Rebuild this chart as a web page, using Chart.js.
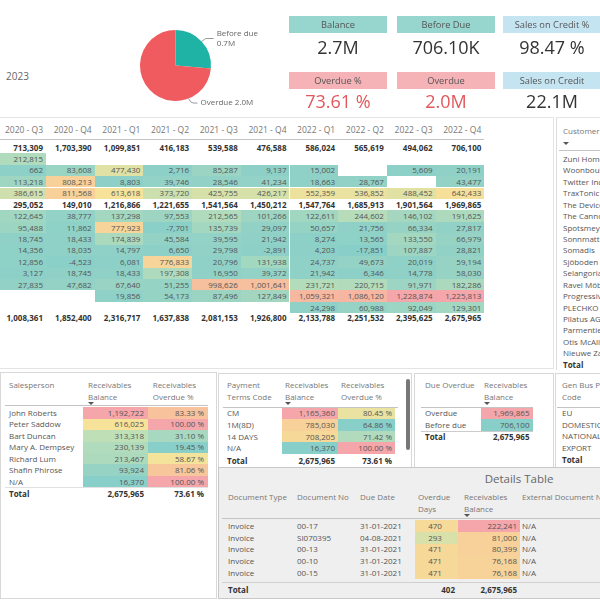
<!DOCTYPE html>
<html><head><meta charset="utf-8">
<script src="https://cdn.jsdelivr.net/npm/chart.js@4.4.1/dist/chart.umd.min.js"></script>
<style>
html,body{margin:0;padding:0;}
body{width:600px;height:600px;overflow:hidden;background:#fff;font-family:"Open Sans","Noto Sans",sans-serif;position:relative;}
.t{position:absolute;white-space:nowrap;line-height:12px;height:12px;}
.b{position:absolute;box-sizing:border-box;}
#pie{position:absolute;left:130px;top:22px;}
</style></head><body>
<canvas id="pie" width="150" height="92"></canvas>
<script>
// ---------------- DATA ----------------
const yearLabel = '2023';
const pieLabels = ['Before due', 'Overdue'];
const pieValues = [706100, 1969865];

const kpiLabels = ['Balance', 'Before Due', 'Sales on Credit %', 'Overdue %', 'Overdue', 'Sales on Credit'];
const kpiValues = ['2.7M', '706.10K', '98.47 %', '73.61 %', '2.0M', '22.1M'];

const quarters = ['2020 - Q3','2020 - Q4','2021 - Q1','2021 - Q2','2021 - Q3','2021 - Q4','2022 - Q1','2022 - Q2','2022 - Q3','2022 - Q4'];
const group1Total = [713309,1703390,1099851,416183,539588,476588,586024,565619,494062,706100];
const group1Rows = [
  [212815,null,null,null,null,null,null,null,null,null],
  [662,83608,477430,2716,85287,9137,15002,null,5609,20191],
  [113218,808213,8803,39746,28546,41234,18663,28767,null,43477],
  [386615,811568,613618,373720,425755,426217,552359,536852,488452,642433]
];
const group2Total = [295052,149010,1216866,1221655,1541564,1450212,1547764,1685913,1901564,1969865];
const group2Rows = [
  [122645,38777,137298,97553,212565,101266,122611,244602,146102,191625],
  [95488,11862,777923,-7701,135739,29097,50657,21756,66334,27817],
  [18745,18433,174839,45584,39595,21942,8274,13565,133550,66979],
  [14356,18035,14797,6650,29798,-2891,4203,-17851,107887,28821],
  [12856,-4523,6081,776833,20796,131938,24737,49673,20019,59194],
  [3127,18745,18433,197308,16950,39372,21942,6346,14778,58030],
  [27835,47682,67640,51255,998626,1001641,231721,220715,91971,182286],
  [null,null,19856,54173,87496,127849,1059321,1086120,1228874,1225813],
  [null,null,null,null,null,null,24298,60988,92049,129301]
];
const grandTotal = [1008361,1852400,2316717,1637838,2081153,1926800,2133788,2251532,2395625,2675965];

const customers = ['Zuni Home Crafts Ltd.','Woonboulevard Kuitenbrouwer','Twitter Inc','TraxTonic','The Device Shop','The Cannon Group PLC','Spotsmeyer\'s Furnishings','Sonnmatt Design','Somadis','Sjöboden','Selangorian Ltd.','Ravel Möbel','Progressive Home Furnishings','PLECHKO','Pilatus AG','Parmentier Boutique','Otis McAllister','Nieuwe Zandpoort NV'];

const salespeople = ['John Roberts','Peter Saddow','Bart Duncan','Mary A. Dempsey','Richard Lum','Shafin Phirose','N/A'];
const spBalance = [1192722,616025,313318,230139,213467,93924,16370];
const spOverduePct = [83.33,100.00,31.10,19.45,58.67,81.06,100.00];
const spTotals = [2675965, 73.61];

const payTerms = ['CM','1M(8D)','14 DAYS','N/A'];
const ptBalance = [1165360,785030,708205,16370];
const ptOverduePct = [80.45,64.86,71.42,100.00];
const ptTotals = [2675965, 73.61];

const dueCats = ['Overdue','Before due'];
const dueBalance = [1969865,706100];
const dueTotal = 2675965;

const genBusCodes = ['EU','DOMESTIC','NATIONAL','EXPORT'];

const docTypes = ['Invoice','Invoice','Invoice','Invoice','Invoice'];
const docNos = ['00-17','SI070395','00-13','00-10','00-15'];
const dueDates = ['31-01-2021','04-08-2021','31-01-2021','31-01-2021','31-01-2021'];
const overdueDays = [470,293,471,471,471];
const detBalance = [222241,81000,80399,76168,76168];
const extDocNos = ['N/A','N/A','N/A','N/A','N/A'];
const detTotals = [402, 2675965];
const overdueDaysRange = [0, 800];
const detBalanceRange = [-200000, 222241];

// ---------------- HELPERS ----------------
const fmt = v => v.toLocaleString('en-US');
const pct = v => v.toFixed(2) + ' %';
const STOPS = [[137,207,201],[190,223,183],[246,227,153],[247,200,153],[245,166,170]];
function scaleColor(v, mn, mx){
  let t = (v - mn) / (mx - mn); t = Math.max(0, Math.min(1, t));
  const p = t * (STOPS.length - 1); const i = Math.min(Math.floor(p), STOPS.length - 2); const f = p - i;
  const c = STOPS[i].map((a, k) => Math.round(a + (STOPS[i+1][k] - a) * f));
  return 'rgb(' + c.join(',') + ')';
}
function box(x, y, w, h, css){
  const d = document.createElement('div'); d.className = 'b';
  Object.assign(d.style, {left:x+'px', top:y+'px', width:w+'px', height:h+'px'}, css || {});
  document.body.appendChild(d); return d;
}
function txt(s, x, yc, o){
  o = o || {};
  const d = document.createElement('div'); d.className = 't'; d.textContent = s;
  const size = o.size || 8, lh = Math.max(11, Math.ceil(size * 1.4));
  d.style.fontSize = size + 'px'; d.style.lineHeight = lh + 'px'; d.style.height = lh + 'px';
  d.style.top = (yc - lh / 2) + 'px';
  d.style.color = o.color || '#444';
  if (o.bold) d.style.fontWeight = '700';
  if (o.align === 'right'){ d.style.left = (x - 300) + 'px'; d.style.width = '300px'; d.style.textAlign = 'right'; }
  else if (o.align === 'center'){ d.style.left = (x - 150) + 'px'; d.style.width = '300px'; d.style.textAlign = 'center'; }
  else d.style.left = x + 'px';
  document.body.appendChild(d); return d;
}
// small sort-indicator triangle (drawn as a shape, not text)
function arrow(x, y){
  box(x, y, 0, 0, {borderLeft:'3px solid transparent', borderRight:'3px solid transparent', borderTop:'3px solid #555'});
}

// ---------------- TOP AREA ----------------
txt(yearLabel, 6, 76, {size:10, color:'#666'});

const kpiBg = ['#97d5cf','#97d5cf','#c5e4f2','#f5b3b8','#f5b3b8','#c5e4f2'];
const kpiColor = ['#333','#333','#333','#e0585c','#e0585c','#333'];
const kpiX = [289, 397, 503];
kpiLabels.forEach((lab, i) => {
  const col = i % 3, row = Math.floor(i / 3);
  const x = kpiX[col], ly = row ? 72 : 16, vy = row ? 101 : 46.5;
  box(x, ly, 98, 17, {background:kpiBg[i]});
  txt(lab, x + 49, ly + 8.5, {size:9.3, color:'#555', align:'center'});
  txt(kpiValues[i], x + 49, vy, {size:18, color:kpiColor[i], align:'center'});
});

// ---------------- MATRIX ----------------
box(-1, 117, 555, 252, {border:'1px solid #e4e4e4'});
const COLW = 48.7, COL0R = 46, ROW0 = 147.5, ROWH = 11.43;
const detailVals = [...group1Rows, ...group2Rows].flat().filter(v => v !== null);
const mMin = Math.min(...detailVals), mMax = Math.max(...detailVals);
quarters.forEach((q, i) => txt(q, COL0R + COLW * i - 3, 130, {size:8.5, color:'#777', align:'right'}));
box(0, 139, 484, 1, {background:'#c4c4c4'});
const matrixRows = [{vals:group1Total, sub:true}, ...group1Rows.map(v => ({vals:v})), {vals:group2Total, sub:true}, ...group2Rows.map(v => ({vals:v}))];
matrixRows.forEach((r, ri) => {
  const yc = ROW0 + ROWH * ri;
  r.vals.forEach((v, ci) => {
    if (v === null) return;
    const right = COL0R + COLW * ci;
    if (!r.sub) box(Math.max(0, right - COLW), yc - ROWH / 2, right - Math.max(0, right - COLW), ROWH, {background:scaleColor(v, mMin, mMax)});
    txt(fmt(v), right - 3, yc, {size:8, bold:!!r.sub, color:r.sub ? '#333' : '#555', align:'right'});
  });
});
grandTotal.forEach((v, ci) => txt(fmt(v), COL0R + COLW * ci - 3, 318, {size:8, bold:true, color:'#333', align:'right'}));

// ---------------- CUSTOMER LIST ----------------
box(556, 117, 50, 253, {borderLeft:'1px solid #ddd', borderTop:'1px solid #e4e4e4'});
txt('Customer Name', 563, 131, {size:8, color:'#777'});
arrow(563, 142);
box(559, 150, 45, 1, {background:'#c4c4c4'});
customers.forEach((c, i) => txt(c, 563, 159 + ROWH * i, {size:8, color:'#555'}));
txt('Total', 563, 159 + ROWH * customers.length, {size:8, bold:true, color:'#333'});

// ---------------- SALESPERSON ----------------
box(0, 372, 217, 227, {border:'1px solid #d8d8d8'});
txt('Salesperson', 9, 385, {color:'#777'});
txt('Receivables', 88, 385, {color:'#777'}); txt('Balance', 88, 396.5, {color:'#777'}); arrow(88, 401.5);
txt('Receivables', 152.7, 385, {color:'#777'}); txt('Overdue %', 152.7, 396.5, {color:'#777'});
box(5, 405, 203, 1, {background:'#c4c4c4'});
const spMin = Math.min(...spBalance), spMax = Math.max(...spBalance);
const spoMin = Math.min(...spOverduePct), spoMax = Math.max(...spOverduePct);
salespeople.forEach((n, i) => {
  const yc = 413 + 11.43 * i;
  txt(n, 9, yc, {color:'#555'});
  box(83, yc - 5.7, 64.5, 11.43, {background:scaleColor(spBalance[i], spMin, spMax)});
  txt(fmt(spBalance[i]), 144, yc, {align:'right', color:'#555'});
  box(147.5, yc - 5.7, 60, 11.43, {background:scaleColor(spOverduePct[i], spoMin, spoMax)});
  txt(pct(spOverduePct[i]), 204, yc, {align:'right', color:'#555'});
});
box(5, 487, 203, 1, {background:'#e2e2e2'});
txt('Total', 9, 493.5, {bold:true, color:'#333'});
txt(fmt(spTotals[0]), 144, 493.5, {bold:true, color:'#333', align:'right'});
txt(pct(spTotals[1]), 204, 493.5, {bold:true, color:'#333', align:'right'});

// ---------------- PAYMENT TERMS ----------------
box(218, 373, 194, 96, {border:'1px solid #d8d8d8'});
txt('Payment', 227, 385, {color:'#777'}); txt('Terms Code', 227, 396.5, {color:'#777'});
txt('Receivables', 285, 385, {color:'#777'}); txt('Balance', 285, 396.5, {color:'#777'}); arrow(285, 401.5);
txt('Receivables', 341, 385, {color:'#777'}); txt('Overdue %', 341, 396.5, {color:'#777'});
box(223, 407, 175, 1, {background:'#c4c4c4'});
box(406, 379, 3.5, 71, {background:'#777', borderRadius:'2px'});
const ptMin = Math.min(...ptBalance), ptMax = Math.max(...ptBalance);
const ptoMin = Math.min(...ptOverduePct), ptoMax = Math.max(...ptOverduePct);
payTerms.forEach((n, i) => {
  const yc = 413.3 + 11.6 * i;
  txt(n, 227, yc, {color:'#555'});
  box(282, yc - 5.8, 55.5, 11.6, {background:scaleColor(ptBalance[i], ptMin, ptMax)});
  txt(fmt(ptBalance[i]), 335, yc, {align:'right', color:'#555'});
  box(337.5, yc - 5.8, 57.5, 11.6, {background:scaleColor(ptOverduePct[i], ptoMin, ptoMax)});
  txt(pct(ptOverduePct[i]), 392, yc, {align:'right', color:'#555'});
});
txt('Total', 227, 460.5, {bold:true, color:'#333'});
txt(fmt(ptTotals[0]), 335, 460.5, {bold:true, color:'#333', align:'right'});
txt(pct(ptTotals[1]), 392, 460.5, {bold:true, color:'#333', align:'right'});

// ---------------- DUE OVERDUE ----------------
box(414, 373, 140, 96, {border:'1px solid #d8d8d8'});
txt('Due Overdue', 425, 385, {color:'#777'});
txt('Receivables', 484, 385, {color:'#777'}); txt('Balance', 484, 396.5, {color:'#777'}); arrow(484, 401.5);
box(421, 407, 112, 1, {background:'#c4c4c4'});
const dMin = Math.min(...dueBalance), dMax = Math.max(...dueBalance);
dueCats.forEach((n, i) => {
  const yc = 413.3 + 11.5 * i;
  txt(n, 425, yc, {color:'#555'});
  box(481, yc - 5.75, 52, 11.5, {background:scaleColor(dueBalance[i], dMin, dMax)});
  txt(fmt(dueBalance[i]), 529.5, yc, {align:'right', color:'#555'});
});
box(421, 430.5, 112, 1, {background:'#ccc'});
txt('Total', 425, 436.5, {bold:true, color:'#333'});
txt(fmt(dueTotal), 529.5, 436.5, {bold:true, color:'#333', align:'right'});

// ---------------- GEN BUS ----------------
box(555, 373, 50, 96, {border:'1px solid #d8d8d8'});
txt('Gen Bus Posting Group', 562, 385, {color:'#777'}); txt('Code', 562, 396.5, {color:'#777'});
box(557, 407, 48, 1, {background:'#c4c4c4'});
genBusCodes.forEach((n, i) => txt(n, 562, 413.3 + 11.5 * i, {color:'#555'}));
txt('Total', 562, 460, {bold:true, color:'#333'});

// ---------------- DETAILS TABLE ----------------
box(218, 467, 386, 132, {background:'#efefef', border:'1px solid #c8c8c8'});
txt('Details Table', 519, 478.5, {size:11.5, color:'#666', align:'center'});
txt('Document Type', 228, 497, {color:'#777'});
txt('Document No', 297, 497, {color:'#777'});
txt('Due Date', 360, 497, {color:'#777'});
txt('Overdue', 418, 497, {color:'#777'}); txt('Days', 418, 508.5, {color:'#777'});
txt('Receivables', 464, 497, {color:'#777'}); txt('Balance', 464, 508.5, {color:'#777'}); arrow(464, 513.5);
txt('External Document No.', 522, 497, {color:'#777'});
box(222, 518, 382, 1, {background:'#c4c4c4'});
docTypes.forEach((t, i) => {
  const yc = 526 + 11.7 * i;
  txt(t, 228, yc, {color:'#555'});
  txt(docNos[i], 297, yc, {color:'#555'});
  txt(dueDates[i], 360, yc, {color:'#555'});
  box(415, yc - 5.85, 43, 11.7, {background:scaleColor(overdueDays[i], overdueDaysRange[0], overdueDaysRange[1])});
  txt(String(overdueDays[i]), 435, yc, {align:'center', color:'#555'});
  box(458, yc - 5.85, 62, 11.7, {background:scaleColor(detBalance[i], detBalanceRange[0], detBalanceRange[1])});
  txt(fmt(detBalance[i]), 517, yc, {align:'right', color:'#555'});
  txt(extDocNos[i], 522, yc, {color:'#555'});
});
box(222, 582, 382, 1, {background:'#d0d0d0'});
txt('Total', 228, 590, {bold:true, color:'#333'});
txt(String(detTotals[0]), 455, 590, {bold:true, color:'#333', align:'right'});
txt(fmt(detTotals[1]), 517, 590, {bold:true, color:'#333', align:'right'});

// ---------------- PIE (Chart.js) ----------------
const pieLabelPlugin = {
  id: 'pieLabels',
  afterDraw(chart){
    const ctx = chart.ctx, meta = chart.getDatasetMeta(0);
    ctx.save();
    ctx.strokeStyle = '#999'; ctx.lineWidth = 1;
    ctx.fillStyle = '#666'; ctx.font = '8px "Open Sans", sans-serif'; ctx.textBaseline = 'middle';
    const a0 = meta.data[0];
    const m0 = (a0.startAngle + a0.endAngle) / 2;
    const p0 = {x: a0.x + a0.outerRadius * Math.cos(m0), y: a0.y + a0.outerRadius * Math.sin(m0)};
    ctx.beginPath(); ctx.moveTo(p0.x, p0.y); ctx.lineTo(p0.x + 4, p0.y - 3); ctx.lineTo(p0.x + 12, p0.y - 3); ctx.stroke();
    ctx.fillText(pieLabels[0], p0.x + 15, p0.y - 7.5);
    ctx.fillText((pieValues[0] / 1e6).toFixed(1) + 'M', p0.x + 15, p0.y + 2.5);
    const a1 = meta.data[1];
    const m1 = a1.startAngle + (a1.endAngle - a1.startAngle) * 0.24;
    const p1 = {x: a1.x + a1.outerRadius * Math.cos(m1), y: a1.y + a1.outerRadius * Math.sin(m1)};
    ctx.beginPath(); ctx.moveTo(p1.x, p1.y); ctx.quadraticCurveTo(p1.x + 2, p1.y + 4.5, p1.x + 5, p1.y + 4.5); ctx.lineTo(p1.x + 9, p1.y + 4.5); ctx.stroke();
    ctx.fillText(pieLabels[1] + ' ' + (pieValues[1] / 1e6).toFixed(1) + 'M', p1.x + 12, p1.y + 4.5);
    ctx.restore();
  }
};
new Chart(document.getElementById('pie'), {
  type: 'pie',
  data: {labels: pieLabels, datasets: [{data: pieValues, backgroundColor: ['#1fb3a5', '#ef5b5e'], borderWidth: 0}]},
  options: {
    responsive: false, animation: false,
    layout: {padding: {left: 10, top: 8, right: 69, bottom: 13}},
    plugins: {legend: {display: false}, tooltip: {enabled: false}}
  },
  plugins: [pieLabelPlugin]
});
</script>
</body></html>
